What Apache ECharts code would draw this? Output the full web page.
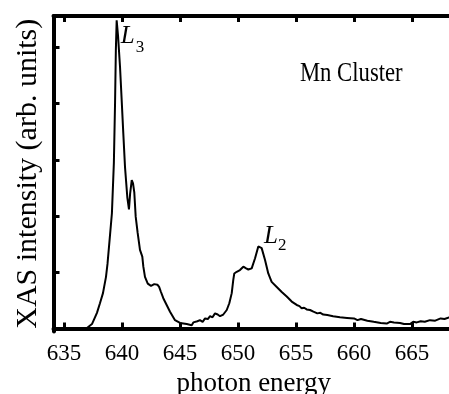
<!DOCTYPE html>
<html>
<head>
<meta charset="utf-8">
<script src="https://cdn.jsdelivr.net/npm/echarts@6/dist/echarts.min.js"></script>
<style>
html,body{margin:0;padding:0;background:#fff;}
#chart{width:449px;height:394px;}
</style>
</head>
<body>
<div id="chart"></div>
<script>
// photon energy (eV)
var energy = [634.1,634.8,635.6,636.4,636.98,637.41,637.67,637.84,638.10,638.36,638.62,638.75,638.95,639.13,639.30,639.40,639.47,639.54,639.66,639.83,639.97,640.11,640.26,640.46,640.60,640.70,640.84,640.95,641.06,641.18,641.35,641.55,641.75,641.84,641.98,642.22,642.50,642.78,643.05,643.20,643.36,643.56,643.85,644.14,644.57,645.00,645.58,646.01,646.15,646.29,646.50,646.72,646.95,647.16,647.40,647.59,647.80,648.02,648.25,648.45,648.73,649.03,649.25,649.46,649.59,649.68,649.89,650.17,650.46,650.70,650.89,651.18,651.47,651.75,651.90,652.04,652.33,652.61,652.90,653.34,653.77,654.20,654.63,655.06,655.30,655.49,655.70,655.92,656.21,656.50,656.84,657.10,657.35,657.70,658.20,658.79,659.40,660.00,660.30,660.60,661.15,661.70,662.30,662.82,663.10,663.45,663.97,664.31,664.83,665.10,665.41,665.75,666.10,666.55,667.00,667.47,667.80,668.20,668.60];
// XAS intensity (arb. units)
var intensity = [-0.01,-0.01,-0.02,-0.01,0.01,0.08,0.20,0.28,0.45,0.63,0.92,1.15,1.62,2.05,2.95,4.00,4.95,5.48,5.20,4.65,4.07,3.48,2.87,2.33,2.12,2.40,2.64,2.58,2.42,1.99,1.70,1.40,1.28,1.10,0.92,0.80,0.76,0.79,0.78,0.74,0.65,0.54,0.42,0.30,0.15,0.10,0.08,0.06,0.11,0.09,0.13,0.15,0.12,0.18,0.17,0.22,0.20,0.27,0.25,0.22,0.25,0.33,0.45,0.63,0.86,0.98,1.01,1.04,1.10,1.07,1.05,1.07,1.25,1.46,1.49,1.43,1.22,0.98,0.83,0.74,0.65,0.57,0.48,0.42,0.40,0.36,0.37,0.34,0.33,0.30,0.27,0.28,0.25,0.24,0.22,0.20,0.19,0.18,0.15,0.17,0.14,0.12,0.10,0.09,0.12,0.11,0.10,0.08,0.08,0.12,0.11,0.13,0.12,0.15,0.14,0.18,0.17,0.20,0.20];
var xTicks = [635,640,645,650,655,660,665];
var yTicks = [1,2,3,4,5];
var xName = 'photon energy';
var yName = 'XAS intensity (arb. units)';
var sampleLabel = 'Mn Cluster';
var peakL3 = {main:'L', sub:'3', x:639.54, y:5.48};
var peakL2 = {main:'L', sub:'2', x:651.90, y:1.49};

var pts = energy.map(function(e,i){return [e,intensity[i]];});
var FONT = '"Liberation Serif","Times New Roman",serif';
var chart = echarts.init(document.getElementById('chart'), null, {renderer:'canvas'});
var xMin = 634.095, xMax = 668.62;
var axisLineStyle = {color:'#000', width:4};
var tickStyle = {color:'#000', width:3};
chart.setOption({
  animation:false,
  backgroundColor:'#fff',
  grid:{left:53.5, right:-5, top:16, bottom:62.5, outerBoundsMode:'none', containLabel:false},
  xAxis:[{
    type:'value', position:'bottom', min:xMin, max:xMax,
    axisLine:{show:true, lineStyle:axisLineStyle},
    axisTick:{show:true, inside:true, length:6, lineStyle:tickStyle, customValues:xTicks},
    axisLabel:{show:true, margin:11, color:'#000', fontFamily:FONT, fontSize:23, customValues:xTicks, formatter:function(v){return String(Math.round(v));}},
    splitLine:{show:false},
    name:xName, nameLocation:'middle', nameGap:36,
    nameTextStyle:{color:'#000', fontFamily:FONT, fontSize:27}
  },{
    type:'value', position:'top', min:xMin, max:xMax,
    axisLine:{show:true, lineStyle:axisLineStyle},
    axisTick:{show:true, inside:true, length:6, lineStyle:tickStyle, customValues:xTicks},
    axisLabel:{show:false},
    splitLine:{show:false}
  }],
  yAxis:[{
    type:'value', min:-0.052, max:5.557,
    axisLine:{show:true, lineStyle:axisLineStyle},
    axisTick:{show:true, inside:true, length:6, lineStyle:tickStyle, customValues:yTicks},
    axisLabel:{show:false},
    splitLine:{show:false},
    name:yName, nameLocation:'middle', nameGap:10,
    nameTextStyle:{color:'#000', fontFamily:FONT, fontSize:30}
  }],
  series:[{
    type:'line', data:pts, xAxisIndex:0, yAxisIndex:0,
    showSymbol:false, smooth:false,
    lineStyle:{color:'#000', width:2},
    z:3
  }]
});

function place(){
  var p3 = chart.convertToPixel({xAxisIndex:0,yAxisIndex:0},[peakL3.x,peakL3.y]);
  var p2 = chart.convertToPixel({xAxisIndex:0,yAxisIndex:0},[peakL2.x,peakL2.y]);
  var pm = chart.convertToPixel({xAxisIndex:0,yAxisIndex:0},[655.34,4.53]);
  chart.setOption({graphic:[
    {type:'text', x:pm[0], y:pm[1], scaleX:0.84, style:{text:sampleLabel, font:'27px '+FONT, fill:'#000', align:'left', verticalAlign:'middle'}},
    {type:'text', x:p3[0]+4, y:p3[1]+16, style:{text:peakL3.main, font:'italic 25px '+FONT, fill:'#000', align:'left', verticalAlign:'middle'}},
    {type:'text', x:p3[0]+19, y:p3[1]+27, style:{text:peakL3.sub, font:'17px '+FONT, fill:'#000', align:'left', verticalAlign:'middle'}},
    {type:'text', x:p2[0]+4, y:p2[1]-8.5, style:{text:peakL2.main, font:'italic 25px '+FONT, fill:'#000', align:'left', verticalAlign:'middle'}},
    {type:'text', x:p2[0]+18, y:p2[1]+0.5, style:{text:peakL2.sub, font:'17px '+FONT, fill:'#000', align:'left', verticalAlign:'middle'}}
  ]});
}
place();
</script>
</body>
</html>
